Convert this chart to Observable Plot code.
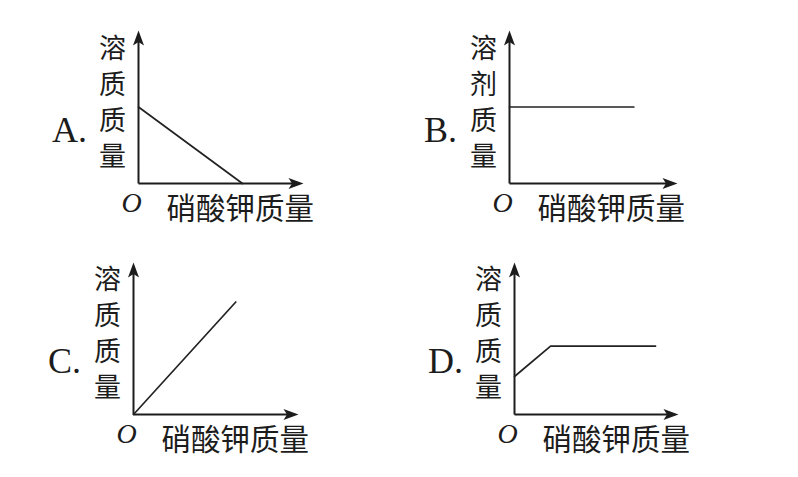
<!DOCTYPE html>
<html>
<head>
<meta charset="utf-8">
<script src="https://cdn.jsdelivr.net/npm/d3@7"></script>
<script src="https://cdn.jsdelivr.net/npm/@observablehq/plot@0.6"></script>
<style>
  html, body { margin: 0; padding: 0; background: #fff; }
  #chart { position: relative; width: 798px; height: 477px; background: #fff; overflow: hidden; }
  #chart svg { position: absolute; overflow: visible; background: transparent; }
</style>
</head>
<body>
<div id="chart"></div>
<script>
// ---- data ----
const panelLetters = ["A.", "B.", "C.", "D."];
const yAxisLabels = ["溶质质量", "溶剂质量", "溶质质量", "溶质质量"];
const xAxisLabel = "硝酸钾质量";
const originLabel = "O";

// curves, in axis units (axis runs 0..10 to the arrow tip)
const curveAx = [0, 6.3];
const curveAy = [5.0, 0];
const curveBx = [0, 7.4];
const curveBy = [5.0, 5.0];
const curveCx = [0, 6.2];
const curveCy = [0, 7.4];
const curveDx = [0, 2.2, 8.6];
const curveDy = [2.5, 4.5, 4.5];

const curvesX = [curveAx, curveBx, curveCx, curveDx];
const curvesY = [curveAy, curveBy, curveCy, curveDy];

// ---- layout (pixel origin of each panel and axis lengths) ----
const layout = [
  {ox: 138, oy: 183, xLen: 165, yLen: 153},
  {ox: 509, oy: 183, xLen: 168, yLen: 153},
  {ox: 133, oy: 414, xLen: 165, yLen: 152},
  {ox: 514, oy: 414, xLen: 164, yLen: 152}
];

const ink = "#1c1c1c";
const cjk = "'Noto Sans CJK SC', 'Noto Sans CJK JP', sans-serif";
const serif = "'Liberation Serif', 'DejaVu Serif', serif";

// notched arrow head pointing up, tip at origin
const arrowHead = {
  draw(ctx) {
    ctx.moveTo(0, 0);
    ctx.lineTo(5.5, 15);
    ctx.lineTo(0, 11.5);
    ctx.lineTo(-5.5, 15);
    ctx.closePath();
  }
};

const container = document.getElementById("chart");

panelLetters.forEach((letter, i) => {
  const L = layout[i];
  const ml = 100, mb = 45, mt = 30, mr = 30;
  const width = ml + L.xLen + mr;
  const height = mt + L.yLen + mb;
  const pts = curvesX[i].map((x, k) => ({x, y: curvesY[i][k]}));
  const vertical = yAxisLabels[i].split("").join("\n");

  const svg = Plot.plot({
    width, height,
    marginLeft: ml, marginRight: mr, marginTop: mt, marginBottom: mb,
    x: {domain: [0, 10], axis: null},
    y: {domain: [0, 10], axis: null},
    style: {background: "transparent"},
    marks: [
      // axes
      Plot.link([0], {x1: 0, y1: 0, x2: 9.5, y2: 0, stroke: ink, strokeWidth: 2}),
      Plot.link([0], {x1: 0, y1: 0, x2: 0, y2: 9.4, stroke: ink, strokeWidth: 2}),
      Plot.dot([0], {x: 10, y: 0, symbol: arrowHead, rotate: 90, fill: ink, stroke: "none"}),
      Plot.dot([0], {x: 0, y: 10, symbol: arrowHead, rotate: 0, fill: ink, stroke: "none"}),
      // curve
      Plot.line(pts, {x: "x", y: "y", stroke: "#222", strokeWidth: 1.7}),
      // labels
      Plot.text([vertical], {x: 0, y: 0, text: d => d, dx: -26, dy: -83,
        fontSize: 27, lineHeight: 1.34, lineAnchor: "middle", textAnchor: "middle",
        fontFamily: cjk, fill: ink}),
      Plot.text([letter], {x: 0, y: 0, text: d => d, dx: -69, dy: -53,
        fontSize: 36, textAnchor: "middle", lineAnchor: "middle",
        fontFamily: serif, fill: ink}),
      Plot.text([originLabel], {x: 0, y: 0, text: d => d, dx: -7, dy: 20,
        fontSize: 28, fontStyle: "italic", textAnchor: "middle", lineAnchor: "middle",
        fontFamily: serif, fill: ink}),
      Plot.text([xAxisLabel], {x: 0, y: 0, text: d => d, dx: 28, dy: 26,
        fontSize: 29.5, textAnchor: "start", lineAnchor: "middle",
        fontFamily: cjk, fill: ink})
    ]
  });
  svg.style.left = (L.ox - ml) + "px";
  svg.style.top = (L.oy - (height - mb)) + "px";
  container.appendChild(svg);
});
</script>
</body>
</html>
